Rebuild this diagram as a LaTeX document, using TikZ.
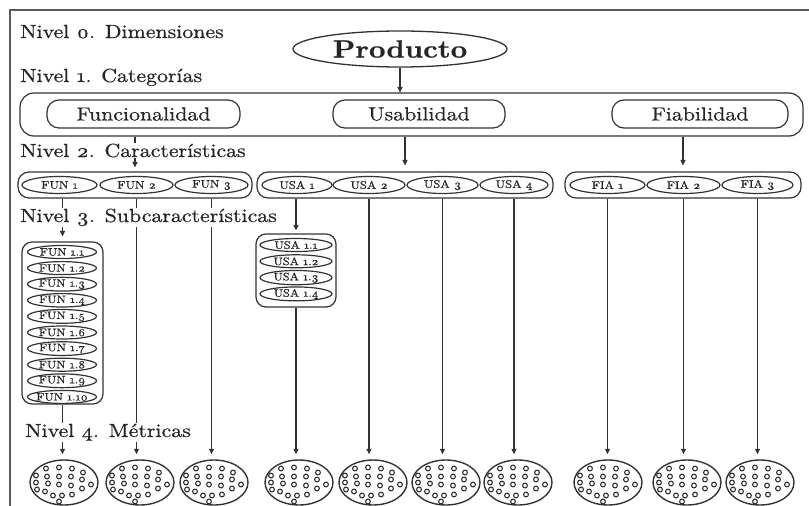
\documentclass[tikz,border=0pt]{standalone}
\usepackage{fontspec}
\setmainfont{lmroman10-regular.otf}[BoldFont=lmroman10-bold.otf,FakeStretch=1.15,FakeBold=0.6]
\usetikzlibrary{arrows.meta,shapes.geometric}
\definecolor{ln}{HTML}{333333}
\definecolor{tx}{HTML}{262626}
\newcommand{\os}[1]{\oldstylenums{#1}}
\newcommand{\mk}[1]{\makebox[0pt]{#1}}
\begin{document}
\begin{tikzpicture}[x=1pt,y=-1pt,
  lvl/.style={font=\fontsize{19}{22}\selectfont, text=tx, anchor=base west, inner sep=1pt, fill=white},
  bigbox/.style={draw=ln, line width=1.2pt, rounded corners=14pt, inner sep=0pt},
  cat/.style={draw=ln, line width=1.2pt, rounded corners=12pt, minimum height=28pt, inner sep=0pt, font=\fontsize{19}{22}\selectfont, text=tx},
  grp/.style={draw=ln, line width=1.2pt, rounded corners=11pt, minimum height=26pt, inner sep=0pt},
  el/.style={ellipse, draw=ln, line width=1.2pt, minimum height=17pt, inner sep=0pt, font=\fontsize{11}{12}\selectfont, text=tx},
  subel/.style={ellipse, draw=ln, line width=1.2pt, minimum height=13pt, inner sep=0pt, font=\fontsize{10.8}{12}\selectfont, text=tx},
  subbox/.style={draw=ln, line width=1.2pt, rounded corners=10pt, inner sep=0pt},
  arr/.style={draw=ln, line width=1.2pt, -{Triangle[length=5.5pt,width=5pt]}},
  metric/.style={ellipse, draw=ln, line width=1.4pt, minimum width=68pt, minimum height=45pt, inner sep=0pt},
  dot/.style={draw=ln, line width=1.1pt}]
\useasboundingbox (0,0) rectangle (809,506);
% frame
\draw[line width=1.5pt, draw=gray!70!black] (809,10) -- (10,10) -- (10,506);
% level 0
\node[el, line width=1.3pt, minimum width=214pt, minimum height=36pt, font=\fontsize{25}{28}\selectfont\bfseries] (prod) at (400,49) {\mk{Producto}};
% level 1
\node[bigbox, minimum width=783pt, minimum height=43pt] (n1) at (411.5,114.5) {};
\node[cat, minimum width=193pt] (func) at (143.5,114) {Funcionalidad};
\node[cat, minimum width=172pt] (usab) at (419,114) {Usabilidad};
\node[cat, minimum width=176pt] (fiab) at (700,114) {Fiabilidad};
% level 2
\node[grp, minimum width=234pt] (gfun) at (135,185) {};
\node[grp, minimum width=296pt] (gusa) at (405,185) {};
\node[grp, minimum width=236pt] (gfia) at (683,185) {};
\node[el, minimum width=75pt] (fun1) at (59.5,185) {\mk{FUN \os{1}}};
\node[el, minimum width=73pt] (fun2) at (136.5,185) {\mk{FUN \os{2}}};
\node[el, minimum width=73pt] (fun3) at (211.5,185) {\mk{FUN \os{3}}};
\node[el, minimum width=70pt] (usa1) at (297,185) {\mk{USA \os{1}}};
\node[el, minimum width=72pt] (usa2) at (369,185) {\mk{USA \os{2}}};
\node[el, minimum width=71pt] (usa3) at (442.5,185) {\mk{USA \os{3}}};
\node[el, minimum width=68pt] (usa4) at (514,185) {\mk{USA \os{4}}};
\node[el, minimum width=75pt] (fia1) at (607.5,185) {\mk{FIA \os{1}}};
\node[el, minimum width=73pt] (fia2) at (683.5,185) {\mk{FIA \os{2}}};
\node[el, minimum width=71pt] (fia3) at (757.5,185) {\mk{FIA \os{3}}};
% level 3
\node[subbox, minimum width=81pt, minimum height=162pt] (sfun) at (62.5,323) {};
\foreach \i in {1,...,10}
  \node[subel, minimum width=69pt] (sf\i) at (62,{252+16.1*(\i-1)}) {\mk{FUN \os{1}.\os{\i}}};
\node[subbox, minimum width=80pt, minimum height=73pt] (susa) at (296,270.5) {};
\foreach \i in {1,...,4}
  \node[subel, minimum width=72pt] (su\i) at (296,{245+16.3*(\i-1)}) {\mk{USA \os{1}.\os{\i}}};
% level 4 metrics
\foreach \n/\x in {1/64,2/140,3/214,4/299,5/373,6/446,7/518,8/608,9/687,10/760} {
  \node[metric] (m\n) at (\x,482.5) {};
  \foreach \p in {(-18,-14),(-5,-15),(8,-14),(19,-10),(-28,-7),(-28,0),(-27,7),(-17,-6),(-5,-6),(7,-6),(18,-3),(27,2),(-16,1),(-5,2),(7,3),(18,6),(-19,9),(-11,13),(-2,13),(8,12),(-5,19)}
    \draw[dot] ([shift={\p}]m\n.center) circle (2.4pt);
}
% connectors
\draw[arr] (prod.south) -- (prod.south |- n1.north);
\draw[arr, shorten >=4pt] (n1.south -| gfun.north) -- (gfun.north);
\draw[arr, shorten >=6pt] (n1.south -| gusa.north) -- (gusa.north);
\draw[arr, shorten >=6pt] (n1.south -| gfia.north) -- (gfia.north);
\draw[arr, shorten >=5pt] (sfun.north |- gfun.south) -- (sfun.north);
\draw[arr, shorten >=3pt] (susa.north |- gusa.south) -- (susa.north);
\draw[arr, shorten >=5pt] (sfun.south) -- (sfun.south |- m1.north);
\draw[arr, shorten >=5pt] (fun2.south |- gfun.south) -- (fun2.south |- m2.north);
\draw[arr, shorten >=5pt] (fun3.south |- gfun.south) -- (fun3.south |- m3.north);
\draw[arr, shorten >=5pt] (susa.south) -- (susa.south |- m4.north);
\draw[arr, shorten >=5pt] (usa2.south |- gusa.south) -- (usa2.south |- m5.north);
\draw[arr, shorten >=5pt] (usa3.south |- gusa.south) -- (usa3.south |- m6.north);
\draw[arr, shorten >=5pt] (usa4.south |- gusa.south) -- (usa4.south |- m7.north);
\draw[arr, shorten >=5pt] (fia1.south |- gfia.south) -- (fia1.south |- m8.north);
\draw[arr, shorten >=5pt] (fia2.south |- gfia.south) -- (fia2.south |- m9.north);
\draw[arr, shorten >=5pt] (fia3.south |- gfia.south) -- (fia3.south |- m10.north);
% level labels
\node[lvl] (t0) at (19,38) {Nivel \os{0}. Dimensiones};
\node[lvl] (t1) at (19,82) {Nivel \os{1}. Categorías};
\node[lvl] (t2) at (19,157) {Nivel \os{2}. Características};
\node[lvl] (t3) at (19,222) {Nivel \os{3}. Subcaracterísticas};
\node[lvl] (t4) at (24,437) {Nivel \os{4}. Métricas};
\end{tikzpicture}
\end{document}
